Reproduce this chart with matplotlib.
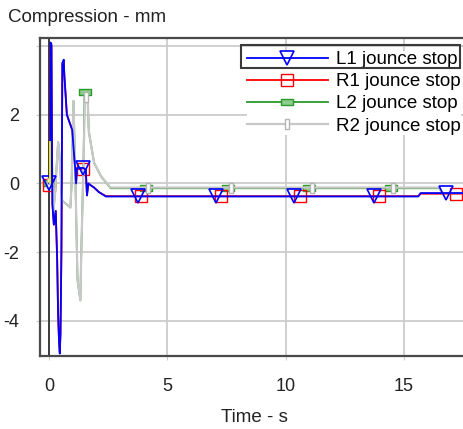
import matplotlib
matplotlib.use('Agg')
import matplotlib.pyplot as plt
from matplotlib.path import Path
from matplotlib.patches import Rectangle

plt.rcParams['font.family'] = ['Liberation Sans', 'DejaVu Sans']

# ---------------- data ----------------
series_labels = ['L1 jounce stop', 'R1 jounce stop', 'L2 jounce stop', 'R2 jounce stop']

# L1 jounce stop (blue)
l1_t = [0.0, 0.05, 0.06, 0.10, 0.12, 0.14, 0.20, 0.28, 0.34, 0.38, 0.42, 0.45, 0.48, 0.52,
        0.56, 0.62, 0.64, 0.75, 0.80, 0.98, 1.03, 1.10, 1.14, 1.18, 1.45, 1.55, 1.60, 1.66,
        1.75, 1.90, 2.10, 2.40, 3.74, 7.06, 10.34, 13.74, 15.60, 15.70, 16.77, 17.70]
l1_y = [0.0, 0.0, 4.1, 4.05, 1.2, -0.6, -1.2, -0.8, -2.2, -3.8, -4.6, -4.95, -4.4, -2.0,
        3.5, 3.6, 3.2, 2.0, 1.9, 1.55, 1.05, 0.45, 0.0, 0.45, 0.45, 0.4, -0.35, 0.0,
        -0.05, -0.12, -0.25, -0.38, -0.38, -0.38, -0.38, -0.38, -0.38, -0.28, -0.28, -0.28]
l1_marks = [0.0, 1.45, 3.74, 7.06, 10.34, 13.74, 16.77]

# R1 jounce stop (red)
r1_t = [0.0, 0.05, 0.06, 0.10, 0.12, 0.14, 0.20, 0.28, 0.34, 0.38, 0.42, 0.45, 0.48, 0.52,
        0.56, 0.62, 0.64, 0.75, 0.80, 0.98, 1.03, 1.10, 1.14, 1.18, 1.45, 1.55, 1.60, 1.66,
        1.75, 1.90, 2.10, 2.40, 3.87, 7.28, 10.60, 13.96, 15.60, 15.70, 17.20, 17.70]
r1_y = [-0.05, 0.0, 4.0, 4.0, 1.2, -0.6, -1.2, -0.8, -2.2, -3.8, -4.6, -4.9, -4.4, -2.0,
        3.5, 3.55, 3.2, 2.0, 1.9, 1.55, 1.05, 0.45, 0.0, 0.42, 0.42, 0.4, -0.35, 0.0,
        -0.05, -0.12, -0.25, -0.37, -0.37, -0.37, -0.37, -0.37, -0.37, -0.3, -0.3, -0.3]
r1_marks = [0.0, 1.45, 3.87, 7.28, 10.60, 13.96, 17.20]

# L2 jounce stop (green)
l2_t = [0.0, 0.15, 0.18, 0.25, 0.38, 0.42, 0.55, 0.90, 0.95, 1.03, 1.10, 1.20, 1.32, 1.36,
        1.45, 1.50, 1.62, 1.68, 1.90, 2.20, 2.60, 4.09, 7.57, 10.98, 14.43, 16.50, 16.60, 17.70]
l2_y = [0.0, 0.0, -0.8, -0.3, 1.2, 1.0, -0.5, -0.7, 0.0, 2.4, 0.5, -2.8, -3.4, -2.0,
        0.5, 2.65, 2.6, 1.5, 0.6, 0.2, -0.14, -0.14, -0.14, -0.14, -0.14, -0.14, -0.28, -0.28]
l2_marks = [0.0, 1.50, 4.09, 7.57, 10.98, 14.43]

# R2 jounce stop (grey)
r2_t = [0.0, 0.15, 0.18, 0.25, 0.38, 0.42, 0.55, 0.90, 0.95, 1.03, 1.10, 1.20, 1.32, 1.36,
        1.45, 1.52, 1.55, 1.62, 1.68, 1.90, 2.20, 2.60, 4.20, 7.70, 11.10, 14.55, 16.50, 16.60, 17.70]
r2_y = [0.0, 0.0, -0.8, -0.3, 1.2, 1.0, -0.5, -0.7, 0.0, 2.4, 0.5, -2.8, -3.4, -2.0,
        0.5, 2.65, 2.5, 2.6, 1.5, 0.6, 0.2, -0.12, -0.12, -0.12, -0.12, -0.12, -0.12, -0.28, -0.28]
r2_marks = [0.0, 1.55, 4.20, 7.70, 11.10, 14.55]

# short yellow trace at the start (unlabelled)
yel_t = [0.04, 0.04]
yel_y = [0.0, 1.2]

x_ticks = [0, 5, 10, 15]
y_ticks = [-4, -2, 0, 2, 4]
y_ticklabels = ['-4', '-2', '0', '2', '']

# ---------------- figure ----------------
W, H = 464, 429
fig = plt.figure(figsize=(W / 100, H / 100), dpi=100)
ax = fig.add_axes([40 / W, 1 - 356 / H, (W - 40) / W + 0.01, (356 - 38) / H])

wide_rect = Path([(-1, -0.45), (1, -0.45), (1, 0.45), (-1, 0.45), (-1, -0.45)],
                 [Path.MOVETO, Path.LINETO, Path.LINETO, Path.LINETO, Path.CLOSEPOLY])
tall_rect = Path([(-0.45, -1), (0.45, -1), (0.45, 1), (-0.45, 1), (-0.45, -1)],
                 [Path.MOVETO, Path.LINETO, Path.LINETO, Path.LINETO, Path.CLOSEPOLY])

def idx(ts, marks):
    return [ts.index(m) for m in marks]

lw = 1.3
h_l2, = ax.plot(l2_t, l2_y, color='#2a9a2a', lw=lw, marker=wide_rect, ms=9,
                mfc='#8ccc8c', mec='#2a9a2a', mew=1.0, markevery=idx(l2_t, l2_marks),
                label=series_labels[2], zorder=2)
h_r1, = ax.plot(r1_t, r1_y, color='#ff0000', lw=lw, marker='s', ms=8,
                mfc='none', mec='#ff0000', mew=1.0, markevery=idx(r1_t, r1_marks),
                label=series_labels[1], zorder=3)
h_r2, = ax.plot(r2_t, r2_y, color='#c8c8c8', lw=1.6, marker=tall_rect, ms=7,
                mfc='white', mec='#b4b4b4', mew=1.0, markevery=idx(r2_t, r2_marks),
                label=series_labels[3], zorder=4)
h_l1, = ax.plot(l1_t, l1_y, color='#0000ff', lw=lw, marker='v', ms=10,
                mfc='none', mec='#0000ff', mew=1.2, markevery=idx(l1_t, l1_marks),
                label=series_labels[0], zorder=5)
ax.plot(yel_t, yel_y, color='#ffff00', lw=1.3, zorder=6)

ax.axvline(0, color='#303030', lw=1.3, zorder=1.5)

ax.set_xlim(-0.385, 17.73)
ax.set_ylim(-5.02, 4.23)
ax.set_xticks(x_ticks)
ax.set_yticks(y_ticks)
ax.set_yticklabels(y_ticklabels)
ax.grid(True, color='#cccccc', lw=1.3, zorder=0)
ax.set_axisbelow(True)
for s in ['left', 'top', 'bottom']:
    ax.spines[s].set_color('#4a4a4a')
    ax.spines[s].set_linewidth(1.6)
ax.spines['right'].set_visible(False)
ax.tick_params(axis='both', length=3, color='#cccccc', labelsize=13, labelcolor='#222222')
ax.tick_params(axis='x', pad=13)
ax.tick_params(axis='y', pad=12)

ax.set_xlabel('Time - s', fontsize=13.5, color='#222222', labelpad=10)
fig.text(8 / W, 1 - 21.5 / H, 'Compression - mm', fontsize=13.5, color='#222222',
         ha='left', va='baseline')

leg = ax.legend(handles=[h_l1, h_r1, h_l2, h_r2], loc='upper left',
                bbox_to_anchor=(247 / W, 1 - 51 / H), bbox_transform=fig.transFigure,
                frameon=True, fontsize=13.5, handlelength=4.3, handletextpad=0.45,
                labelspacing=0.27, borderpad=0.0, borderaxespad=0.0, numpoints=1)
leg.get_frame().set_edgecolor('none')
leg.get_frame().set_facecolor('white')
leg.get_frame().set_alpha(1.0)
leg.set_zorder(10)

fig.add_artist(Rectangle((241 / W, 1 - 68 / H), (460 - 241) / W, 23 / H,
                         transform=fig.transFigure, fill=False,
                         edgecolor='#3a3a3a', lw=1.5, zorder=20))

fig.savefig('out.png', dpi=100)
